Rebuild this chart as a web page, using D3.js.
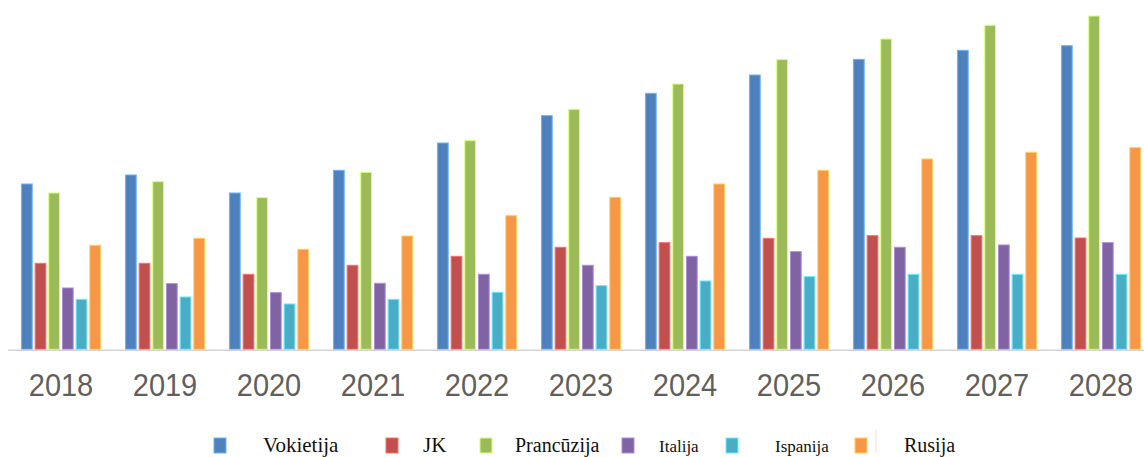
<!DOCTYPE html>
<html>
<head>
<meta charset="utf-8">
<script src="https://cdn.jsdelivr.net/npm/d3@7"></script>
<style>
  html, body { margin: 0; padding: 0; background: #fff; }
  svg { display: block; }
</style>
</head>
<body>
<div id="chart"></div>
<script>
    // chart data
    const years = ["2018", "2019", "2020", "2021", "2022", "2023", "2024", "2025", "2026", "2027", "2028"];
    const seriesNames = ["Vokietija", "JK", "Prancūzija", "Italija", "Ispanija", "Rusija"];
    const vokietija  = [49.6, 52.3, 46.9, 53.7, 61.9, 70.1, 76.8, 82.3, 87.0, 89.7, 91.1];
    const jk         = [25.8, 25.8, 22.5, 25.2, 27.9, 30.6, 32.0, 33.3, 34.1, 34.1, 33.4];
    const prancuzija = [46.9, 50.3, 45.5, 53.1, 62.6, 72.0, 79.6, 86.9, 93.1, 97.2, 100.0];
    const italija    = [18.4, 19.7, 17.0, 19.8, 22.5, 25.2, 27.9, 29.3, 30.6, 31.3, 32.0];
    const ispanija   = [15.0, 15.7, 13.6, 15.0, 17.1, 19.1, 20.5, 21.8, 22.5, 22.5, 22.5];
    const rusija     = [31.2, 33.3, 30.0, 34.0, 40.1, 45.6, 49.6, 53.7, 57.1, 59.1, 60.5];
    const seriesValues = [vokietija, jk, prancuzija, italija, ispanija, rusija];

    const colors = ["#4F81BD", "#C0504D", "#9BBB59", "#8064A2", "#4BACC6", "#F79646"];
    // legend layout: marker x, label x, label font size
    const legendLayout = [
        { mx: 214, tx: 263, fs: 21 },
        { mx: 386, tx: 423, fs: 21 },
        { mx: 480, tx: 515, fs: 20 },
        { mx: 622, tx: 659, fs: 17 },
        { mx: 726, tx: 775, fs: 17 },
        { mx: 855, tx: 904, fs: 20 }
    ];

    const width = 1144;
    const height = 457;
    const baseY = 349.3;

    const svg = d3.select("#chart").append("svg")
        .attr("width", width)
        .attr("height", height);

    const x = d3.scaleBand()
        .domain(years)
        .range([9, 9 + 104 * 11])
        .paddingInner(0.23)
        .paddingOuter(0.115);

    const xInner = d3.scaleBand()
        .domain(d3.range(seriesNames.length))
        .range([0, x.bandwidth()])
        .paddingInner(0.14);

    const y = d3.scaleLinear()
        .domain([0, 100])
        .range([baseY, 16]);

    const rows = [];
    seriesValues.forEach(function (vals, s) {
        vals.forEach(function (v, i) {
            rows.push({ year: years[i], s: s, v: v });
        });
    });

    svg.append("g")
        .selectAll("rect")
        .data(rows)
        .enter().append("rect")
        .attr("x", d => x(d.year) + xInner(d.s) + 0.5)
        .attr("y", d => y(d.v))
        .attr("width", xInner.bandwidth() - 1)
        .attr("height", d => baseY - y(d.v))
        .attr("fill", d => colors[d.s])
        .attr("stroke", d => d3.color(colors[d.s]).brighter(0.9))
        .attr("stroke-width", 1);

    // baseline
    svg.append("line")
        .attr("x1", 8).attr("x2", width)
        .attr("y1", baseY + 1).attr("y2", baseY + 1)
        .attr("stroke", "#d4d4d4")
        .attr("stroke-width", 1.6);

    // year labels
    const axis = svg.append("g")
        .attr("transform", "translate(0," + baseY + ")")
        .call(d3.axisBottom(x).tickSize(0));
    axis.select(".domain").remove();
    axis.selectAll("text")
        .attr("y", 0)
        .attr("dy", null)
        .attr("transform", "translate(0,47) scale(1,1.08)")
        .style("font-family", "'Liberation Sans', Arial, sans-serif")
        .style("font-size", "29px")
        .attr("fill", "#5f5f5f");

    // legend
    const legend = svg.append("g");
    seriesNames.forEach(function (name, i) {
        const l = legendLayout[i];
        legend.append("rect")
            .attr("x", l.mx).attr("y", 438)
            .attr("width", 12).attr("height", 15)
            .attr("fill", colors[i])
            .attr("stroke", d3.color(colors[i]).brighter(0.9))
            .attr("stroke-width", 1);
        legend.append("text")
            .attr("x", l.tx).attr("y", 452)
            .style("font-family", "'Liberation Serif', 'Times New Roman', serif")
            .style("font-size", l.fs + "px")
            .attr("fill", "#111")
            .text(name);
    });
    legend.append("line")
        .attr("x1", 876).attr("x2", 876)
        .attr("y1", 430).attr("y2", 453)
        .attr("stroke", "#e6e6e6")
        .attr("stroke-width", 1);
</script>
</body>
</html>
